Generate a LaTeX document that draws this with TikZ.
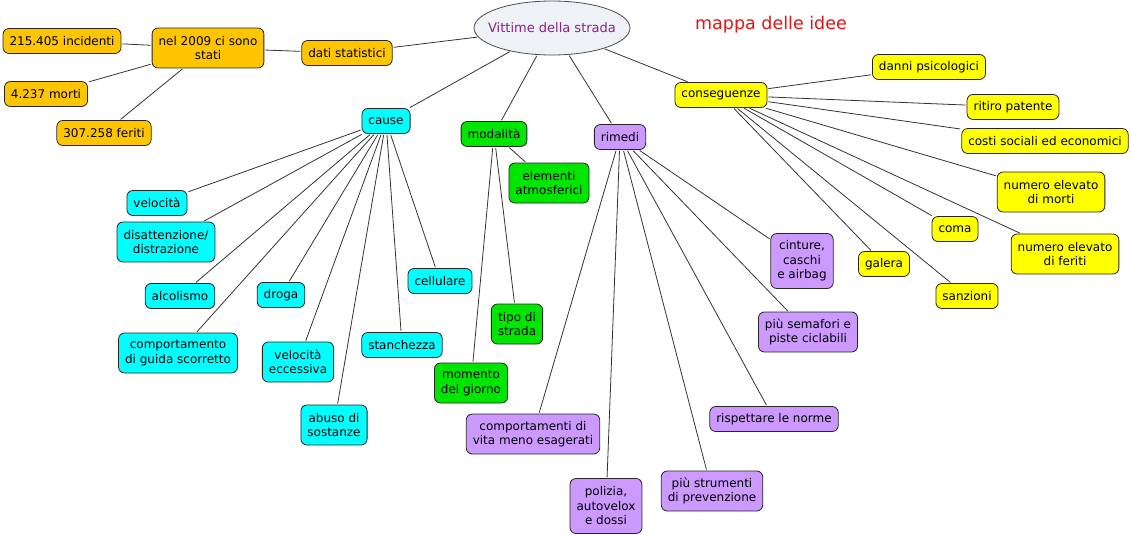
\documentclass[tikz,border=0pt]{standalone}
\usepackage{fontspec}
\setmainfont{DejaVu Sans}
\usetikzlibrary{shapes.geometric}

\definecolor{statOrange}{RGB}{255,197,0}
\definecolor{causeCyan}{RGB}{0,255,255}
\definecolor{modeGreen}{RGB}{0,230,0}
\definecolor{fixPurple}{RGB}{204,153,255}
\definecolor{effectYellow}{RGB}{255,255,0}
\definecolor{rootFill}{RGB}{238,242,246}
\definecolor{rootText}{RGB}{140,30,140}
\definecolor{titleRed}{RGB}{225,20,20}

\begin{document}
\begin{tikzpicture}[
    x=1pt, y=-1pt,
    font=\fontsize{12}{14.5}\selectfont,
    block/.style={
        draw=black!85,
        line width=0.8pt,
        rounded corners=6pt,
        align=center,
        minimum height=25pt,
        inner xsep=6.5pt,
        inner ysep=5pt
    },
    twoLines/.style={minimum height=40pt},
    threeLines/.style={minimum height=55pt},
    stat/.style={block, fill=statOrange},
    causa/.style={block, fill=causeCyan},
    modo/.style={block, fill=modeGreen},
    rimedio/.style={block, fill=fixPurple},
    effetto/.style={block, fill=effectYellow},
    link/.style={draw=black!80, line width=0.8pt, shorten <=1pt, shorten >=1pt}
]
\useasboundingbox (0,0) rectangle (1132,535);

% centro della mappa
\node[ellipse, draw=black!70, line width=0.8pt, fill=rootFill, text=rootText,
      minimum width=156pt, minimum height=54pt, inner xsep=-12pt, inner ysep=0pt,
      font=\fontsize{13}{15}\selectfont] (root) at (552,28) {Vittime della strada};
\node[text=titleRed, font=\fontsize{17.5}{20}\selectfont] (title) at (771,25) {mappa delle idee};

% dati statistici
\node[stat] (datiStatistici) at (347,53) {dati statistici};
\node[stat, twoLines] (nel2009) at (208,48) {nel 2009 ci sono\\stati};
\node[stat] (incidenti) at (62,41) {215.405 incidenti};
\node[stat] (morti) at (46,94) {4.237 morti};
\node[stat] (feriti) at (104,133) {307.258 feriti};

% cause
\node[causa] (cause) at (386,121) {cause};
\node[causa] (velocita) at (157,203) {velocità};
\node[causa, twoLines] (disattenzione) at (166,242) {disattenzione/\\distrazione};
\node[causa] (alcolismo) at (180,296) {alcolismo};
\node[causa] (droga) at (281,295) {droga};
\node[causa, twoLines] (guida) at (178,353) {comportamento\\di guida scorretto};
\node[causa, twoLines] (eccessiva) at (298,362) {velocità\\eccessiva};
\node[causa, twoLines] (abuso) at (334,425) {abuso di\\sostanze};
\node[causa] (stanchezza) at (402,345) {stanchezza};
\node[causa] (cellulare) at (440,281) {cellulare};

% modalita
\node[modo] (modalita) at (494,134) {modalità};
\node[modo, twoLines] (atmosferici) at (549,183) {elementi\\atmosferici};
\node[modo, twoLines] (strada) at (517,324) {tipo di\\strada};
\node[modo, twoLines] (giorno) at (471,383) {momento\\del giorno};

% rimedi
\node[rimedio] (rimedi) at (620,137) {rimedi};
\node[rimedio, threeLines] (cinture) at (802,261) {cinture,\\caschi\\e airbag};
\node[rimedio, twoLines] (semafori) at (808,332) {più semafori e\\piste ciclabili};
\node[rimedio] (norme) at (774,419) {rispettare le norme};
\node[rimedio, twoLines] (vita) at (533,434) {comportamenti di\\vita meno esagerati};
\node[rimedio, threeLines] (polizia) at (606,506) {polizia,\\autovelox\\e dossi};
\node[rimedio, twoLines] (strumenti) at (712,491) {più strumenti\\di prevenzione};

% conseguenze
\node[effetto] (conseguenze) at (721,95) {conseguenze};
\node[effetto] (danni) at (929,67) {danni psicologici};
\node[effetto] (patente) at (1013,107) {ritiro patente};
\node[effetto] (costi) at (1045,141) {costi sociali ed economici};
\node[effetto, twoLines] (numMorti) at (1051,192) {numero elevato\\di morti};
\node[effetto] (coma) at (955,229) {coma};
\node[effetto, twoLines] (numFeriti) at (1065,254) {numero elevato\\di feriti};
\node[effetto] (galera) at (884,264) {galera};
\node[effetto] (sanzioni) at (967,296) {sanzioni};

% collegamenti
\foreach \child in {datiStatistici, cause, modalita, rimedi, conseguenze}
    \draw[link] (root) -- (\child);
\draw[link] (datiStatistici) -- (nel2009);
\foreach \child in {incidenti, morti, feriti}
    \draw[link] (nel2009) -- (\child);
\foreach \child in {velocita, disattenzione, alcolismo, droga, guida, eccessiva, abuso, stanchezza, cellulare}
    \draw[link] (cause) -- (\child);
\foreach \child in {atmosferici, strada, giorno}
    \draw[link] (modalita) -- (\child);
\foreach \child in {cinture, semafori, norme, vita, polizia, strumenti}
    \draw[link] (rimedi) -- (\child);
\foreach \child in {danni, patente, costi, numMorti, coma, numFeriti, galera, sanzioni}
    \draw[link] (conseguenze) -- (\child);

\end{tikzpicture}
\end{document}
